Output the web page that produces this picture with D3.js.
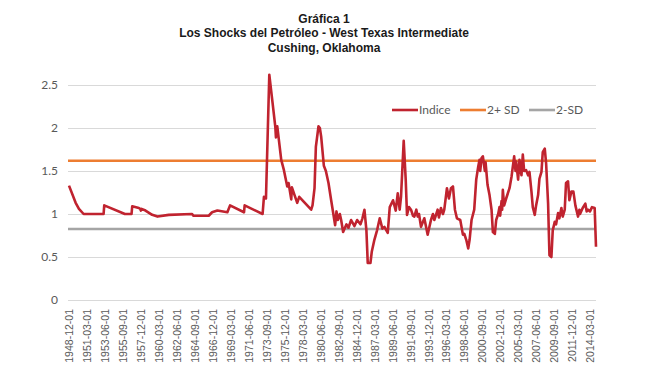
<!DOCTYPE html>
<html>
<head>
<meta charset="utf-8">
<script src="https://cdn.jsdelivr.net/npm/d3@7"></script>
<style>
    body { margin: 0; background: #fff; }
    #graph { width: 646px; height: 381px; }
</style>
</head>
<body>
<div id="graph"></div>
<script>
// monthly points (YYYY-MM)
var dates = [
    '1948-12', '1949-10', '1950-03', '1950-10', '1953-04', '1953-05', '1955-12', '1956-10', '1956-11', '1957-09',
    '1957-11', '1957-12', '1958-01', '1958-07', '1959-05', '1960-01', '1961-06', '1964-05', '1964-07', '1966-06',
    '1966-11', '1967-07', '1968-10', '1969-02', '1970-11', '1970-12', '1973-03', '1973-05', '1973-08', '1974-01',
    '1974-06', '1974-10', '1974-11', '1975-01', '1975-07', '1975-11', '1976-04', '1976-06', '1976-10', '1976-11',
    '1977-03', '1977-07', '1977-10', '1979-04', '1979-06', '1979-09', '1979-11', '1980-03', '1980-05', '1980-07',
    '1980-11', '1981-02', '1981-06', '1981-10', '1982-04', '1982-06', '1982-08', '1982-11', '1983-01', '1983-04',
    '1983-09', '1983-12', '1984-04', '1984-09', '1985-01', '1985-06', '1985-09', '1985-12', '1986-03', '1986-05',
    '1986-09', '1986-11', '1987-03', '1987-07', '1987-11', '1988-03', '1988-06', '1988-11', '1989-02', '1989-07',
    '1989-11', '1990-02', '1990-05', '1990-07', '1990-11', '1991-02', '1991-04', '1991-07', '1991-10', '1992-01',
    '1992-03', '1992-06', '1992-08', '1992-10', '1993-01', '1993-06', '1993-11', '1994-04', '1994-07', '1994-09',
    '1994-12', '1995-02', '1995-04', '1995-07', '1995-10', '1995-12', '1996-04', '1996-07', '1996-10', '1997-01',
    '1997-04', '1997-07', '1997-12', '1998-04', '1998-06', '1998-09', '1998-12', '1999-02', '1999-05', '1999-09',
    '1999-12', '2000-03', '2000-05', '2000-06', '2000-08', '2000-10', '2001-01', '2001-02', '2001-05', '2001-08',
    '2001-11', '2002-01', '2002-04', '2002-06', '2002-09', '2002-11', '2002-12', '2003-02', '2003-03', '2003-04',
    '2003-06', '2003-09', '2004-02', '2004-05', '2004-09', '2004-11', '2004-12', '2005-03', '2005-05', '2005-08',
    '2005-10', '2005-12', '2006-03', '2006-06', '2006-08', '2006-11', '2007-01', '2007-04', '2007-06', '2007-09',
    '2007-11', '2008-02', '2008-04', '2008-07', '2008-09', '2008-12', '2009-01', '2009-02', '2009-05', '2009-07',
    '2009-10', '2009-12', '2010-03', '2010-05', '2010-08', '2010-10', '2011-01', '2011-03', '2011-06', '2011-08',
    '2011-11', '2012-02', '2012-05', '2012-09', '2012-11', '2012-12', '2013-04', '2013-08', '2013-10', '2013-12',
    '2014-03', '2014-06', '2014-10', '2014-12'
];
var indice = [
    1.33, 1.13, 1.06, 1.00, 1.00, 1.10, 1.00, 1.00, 1.09, 1.07,
    1.06, 1.04, 1.06, 1.04, 0.99, 0.97, 0.99, 1.00, 0.98, 0.98,
    1.02, 1.04, 1.02, 1.10, 1.02, 1.10, 1.00, 1.20, 1.18, 2.62,
    2.29, 2.02, 1.89, 2.02, 1.63, 1.51, 1.32, 1.36, 1.17, 1.31,
    1.22, 1.13, 1.20, 1.05, 1.10, 1.30, 1.78, 2.02, 2.00, 1.90,
    1.56, 1.50, 1.36, 1.16, 0.87, 1.03, 0.93, 1.00, 0.93, 0.79,
    0.88, 0.84, 0.93, 0.86, 0.93, 0.88, 0.95, 1.05, 0.81, 0.43,
    0.43, 0.56, 0.70, 0.81, 0.95, 0.83, 0.85, 0.78, 1.08, 1.16,
    1.04, 1.24, 1.05, 1.20, 1.85, 1.40, 0.99, 1.08, 1.05, 0.98,
    0.97, 1.05, 0.97, 1.00, 0.85, 0.95, 0.76, 0.93, 1.00, 0.93,
    1.00, 1.05, 0.96, 1.07, 1.00, 1.05, 1.30, 1.18, 1.30, 1.32,
    1.05, 0.95, 0.93, 0.76, 0.77, 0.70, 0.60, 0.70, 0.93, 1.05,
    1.40, 1.55, 1.63, 1.50, 1.65, 1.67, 1.50, 1.60, 1.34, 1.22,
    1.05, 0.79, 0.77, 0.93, 1.00, 1.08, 0.98, 1.15, 1.05, 1.28,
    1.10, 1.18, 1.30, 1.43, 1.67, 1.50, 1.61, 1.40, 1.63, 1.45,
    1.69, 1.50, 1.51, 1.45, 1.49, 1.26, 1.08, 0.99, 1.10, 1.22,
    1.41, 1.49, 1.72, 1.76, 1.59, 1.12, 0.81, 0.52, 0.50, 0.81,
    0.91, 0.88, 1.01, 0.95, 1.07, 0.97, 1.05, 1.36, 1.38, 1.16,
    1.26, 1.26, 1.10, 0.97, 1.05, 1.00, 1.07, 1.12, 1.03, 1.05,
    1.03, 1.08, 1.07, 0.62
];
var sdUpper = 1.62;
var sdLower = 0.826;

var tickLabels = [
    '1948-12-01', '1951-03-01', '1953-06-01', '1955-09-01', '1957-12-01', '1960-03-01', '1962-06-01',
    '1964-09-01', '1966-12-01', '1969-03-01', '1971-06-01', '1973-09-01', '1975-12-01', '1978-03-01',
    '1980-06-01', '1982-09-01', '1984-12-01', '1987-03-01', '1989-06-01', '1991-09-01', '1993-12-01',
    '1996-03-01', '1998-06-01', '2000-09-01', '2002-12-01', '2005-03-01', '2007-06-01', '2009-09-01',
    '2011-12-01', '2014-03-01'
];
var yTicks = [0, 0.5, 1, 1.5, 2, 2.5];
var titleLines = ['Gráfica 1', 'Los Shocks del Petróleo - West Texas Intermediate', 'Cushing, Oklahoma'];
var legendItems = [
    { name: 'Indice', color: '#c0232f' },
    { name: '2+ SD', color: '#ed7d31' },
    { name: '2-SD', color: '#a5a5a5' }
];

function createChart() {
    var width = 646,
        height = 381;
    var left = 68, right = 596, top = 85, bottom = 300;

    var parseMonth = d3.timeParse('%Y-%m');
    var parseDay = d3.timeParse('%Y-%m-%d');
    var data = dates.map(function(d, i) { return { date: parseMonth(d), value: indice[i] }; });

    var svg = d3.select('#graph')
        .append('svg')
            .attr('width', width)
            .attr('height', height);

    // TITLE ------------------------------------------------------------------------------
    svg.append('g')
        .selectAll('text')
        .data(titleLines).enter().append('text')
            .attr('x', 324)
            .attr('y', function(d, i) { return 23 + i * 14.3; })
            .attr('text-anchor', 'middle')
            .style('font-family', '"Liberation Sans", Arial, sans-serif')
            .style('font-weight', 'bold')
            .style('font-size', '12px')
            .style('fill', '#1a1a1a')
            .text(function(d) { return d; });

    var x = d3.scaleTime()
        .domain([parseMonth('1948-12'), parseMonth('2014-12')])
        .range([69, 596]);

    var y = d3.scaleLinear()
        .domain([0, 2.5])
        .range([bottom, top]);

    // gridlines
    svg.append('g')
        .attr('transform', 'translate(' + left + ',0)')
        .call(d3.axisLeft(y).tickValues(yTicks).tickSize(-(right - left)).tickFormat(''))
        .call(function(g) { g.select('.domain').remove(); })
        .selectAll('line')
            .attr('stroke', '#d9d9d9')
            .attr('stroke-width', 1);

    // y labels
    var yAxis = svg.append('g')
        .attr('transform', 'translate(' + left + ',0)')
        .call(d3.axisLeft(y).tickValues(yTicks).tickSize(0).tickPadding(10).tickFormat(d3.format('')));
    yAxis.select('.domain').remove();
    yAxis.selectAll('text')
        .style('font-family', 'Lato, "Open Sans", sans-serif')
        .style('font-size', '12px')
        .style('fill', '#595959');

    // x labels
    var xAxis = svg.append('g')
        .attr('transform', 'translate(0,' + bottom + ')')
        .call(d3.axisBottom(x)
            .tickValues(tickLabels.map(parseDay))
            .tickSize(0)
            .tickFormat(d3.timeFormat('%Y-%m-%d')));
    xAxis.select('.domain').remove();
    xAxis.selectAll('text')
        .attr('transform', 'rotate(-90)')
        .attr('text-anchor', 'end')
        .attr('x', -9)
        .attr('y', 0)
        .attr('dy', '0.35em')
        .style('font-family', '"Liberation Sans", Arial, sans-serif')
        .style('font-size', '10.5px')
        .style('fill', '#595959');

    // SD lines
    svg.append('line')
        .attr('x1', left).attr('x2', right)
        .attr('y1', y(sdUpper)).attr('y2', y(sdUpper))
        .attr('stroke', legendItems[1].color)
        .attr('stroke-width', 2.5);
    svg.append('line')
        .attr('x1', left).attr('x2', right)
        .attr('y1', y(sdLower)).attr('y2', y(sdLower))
        .attr('stroke', legendItems[2].color)
        .attr('stroke-width', 2.5);

    var line = d3.line()
        .x(function(d) { return x(d.date); })
        .y(function(d) { return y(d.value); });

    svg.append('path')
        .datum(data)
        .attr('d', line)
        .attr('fill', 'none')
        .attr('stroke', legendItems[0].color)
        .attr('stroke-width', 2.6)
        .attr('stroke-linejoin', 'round');

    // LEGEND -----------------------------------------------------------------------------
    var legendX = [392, 460, 529];
    var legend = svg.append('g')
        .selectAll('g')
        .data(legendItems).enter().append('g')
            .attr('transform', function(d, i) { return 'translate(' + legendX[i] + ',110)'; });
    legend.append('line')
        .attr('x1', 0).attr('x2', 26)
        .attr('stroke', function(d) { return d.color; })
        .attr('stroke-width', 2.6);
    legend.append('text')
        .attr('x', 27)
        .attr('dy', '0.35em')
        .style('font-family', 'Lato, "Open Sans", sans-serif')
        .style('font-size', '12px')
        .style('fill', '#595959')
        .text(function(d) { return d.name; });
}

createChart();
</script>
</body>
</html>
